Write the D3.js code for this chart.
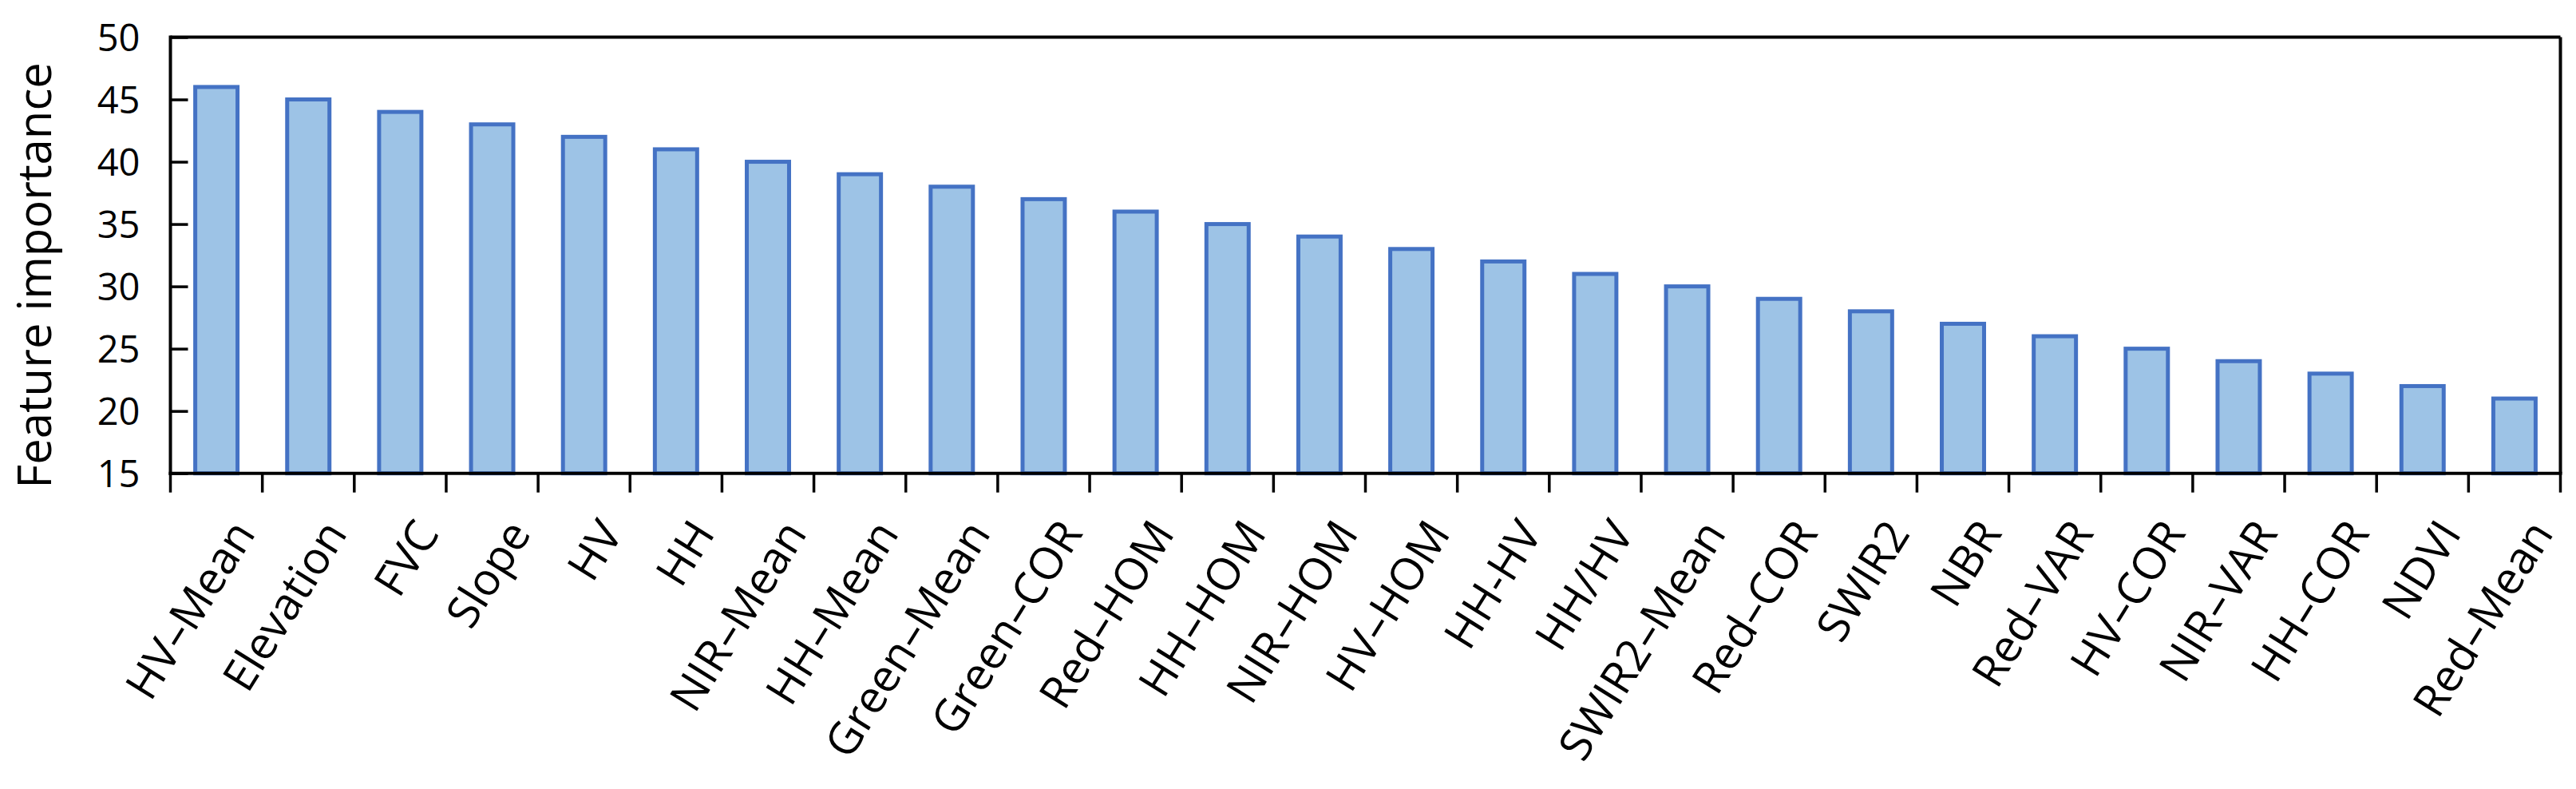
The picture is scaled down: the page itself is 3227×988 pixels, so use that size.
<!DOCTYPE html>
<html>
<head>
<meta charset="utf-8">
<script src="https://cdn.jsdelivr.net/npm/d3@7"></script>
<style>
  html, body { margin: 0; padding: 0; background: #fff; }
  svg { display: block; }
  text { font-family: "Open Sans", "Noto Sans", sans-serif; fill: #000; }
</style>
</head>
<body>
<svg id="chart" width="3227" height="988"></svg>
<script>
const categories = ["HV\u2013Mean", "Elevation", "FVC", "Slope", "HV", "HH", "NIR\u2013Mean", "HH\u2013Mean",
  "Green\u2013Mean", "Green\u2013COR", "Red\u2013HOM", "HH\u2013HOM", "NIR\u2013HOM", "HV\u2013HOM", "HH-HV", "HH/HV",
  "SWIR2\u2013Mean", "Red\u2013COR", "SWIR2", "NBR", "Red\u2013VAR", "HV\u2013COR", "NIR\u2013VAR", "HH\u2013COR",
  "NDVI", "Red\u2013Mean"];
const importance = [46, 45, 44, 43, 42, 41, 40, 39, 38, 37, 36, 35, 34, 33, 32, 31, 30, 29, 28, 27, 26, 25, 24, 23, 22, 21];
const yTicks = [15, 20, 25, 30, 35, 40, 45, 50];
const yTitle = "Feature importance";

const svg = d3.select("#chart");
const mLeft = 213.5, mRight = 3207.5, mTop = 46.5, mBottom = 592.7;

const x = d3.scaleBand().domain(categories).range([mLeft, mRight])
  .paddingInner(0.54).paddingOuter(0.27).align(0.5);
const y = d3.scaleLinear().domain([15, 50]).range([mBottom, mTop]);

// bars
svg.append("g").selectAll("rect").data(categories).join("rect")
  .attr("x", d => x(d))
  .attr("width", x.bandwidth())
  .attr("y", (d, i) => y(importance[i]))
  .attr("height", (d, i) => y(15) - y(importance[i]))
  .attr("fill", "#9DC3E6")
  .attr("stroke", "#4472C4")
  .attr("stroke-width", 5);

// frame (top and right)
svg.append("line").attr("x1", mLeft).attr("x2", mRight).attr("y1", mTop).attr("y2", mTop)
  .attr("stroke", "#000").attr("stroke-width", 4);
svg.append("line").attr("x1", mRight).attr("x2", mRight).attr("y1", mTop).attr("y2", mBottom)
  .attr("stroke", "#000").attr("stroke-width", 4);

// y axis with inward ticks
const yAxis = d3.axisLeft(y).tickValues(yTicks).tickSize(-22).tickPadding(0).tickFormat(d3.format("d"));
const gy = svg.append("g").attr("transform", `translate(${mLeft},0)`).call(yAxis);
gy.attr("font-family", null).attr("font-size", null);
gy.select(".domain").attr("stroke", "#000").attr("stroke-width", 4).attr("d", `M0,${mTop - 2}V${mBottom + 2}`);
gy.selectAll(".tick line").attr("stroke", "#000").attr("stroke-width", 3.5);
gy.selectAll(".tick text")
  .attr("x", -38)
  .attr("dy", "0.357em")
  .attr("text-anchor", "end")
  .style("font-size", "47px");

// x axis: ticks at band boundaries
const boundaries = d3.range(categories.length + 1).map(i => mLeft + i * x.step());
svg.append("line").attr("x1", mLeft - 2).attr("x2", mRight + 2).attr("y1", mBottom).attr("y2", mBottom)
  .attr("stroke", "#000").attr("stroke-width", 4);
svg.append("g").selectAll("line").data(boundaries).join("line")
  .attr("x1", d => d).attr("x2", d => d)
  .attr("y1", mBottom).attr("y2", mBottom + 24)
  .attr("stroke", "#000").attr("stroke-width", 3.5);

// x labels
svg.append("g").selectAll("text").data(categories).join("text")
  .attr("transform", d => `translate(${x(d) + x.bandwidth() / 2 + 50},${668}) rotate(-58)`)
  .attr("text-anchor", "end")
  .style("font-size", "56px")
  .text(d => d);

// y title
svg.append("text")
  .attr("transform", `translate(64,345) rotate(-90)`)
  .attr("text-anchor", "middle")
  .style("font-size", "58px")
  .text(yTitle);
</script>
</body>
</html>
